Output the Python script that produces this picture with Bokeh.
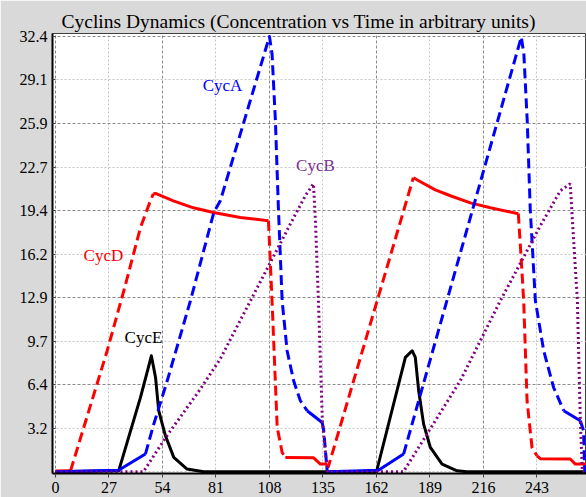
import numpy as np
from bokeh.plotting import figure
from bokeh.models import Range1d, FixedTicker, Label, Grid, CustomJSTickFormatter
from bokeh.embed import file_html
from bokeh.resources import INLINE

# ---------------- data ----------------
title_text = "Cyclins Dynamics (Concentration vs Time in arbitrary units)"

x_ticks = [0, 27, 54, 81, 108, 135, 162, 189, 216, 243, 270]
y_ticks = [3.244, 6.488, 9.732, 12.976, 16.22, 19.464, 22.708, 25.952, 29.196, 32.44]
y_tick_labels = ["3.2", "6.4", "9.7", "12.9", "16.2", "19.4", "22.7", "25.9", "29.1", "32.4"]

cycd_t = [0, 7.6, 26.1, 34.5, 42.9, 47.9, 49.4, 50.5, 59.5, 69.6, 79.7, 93.3, 107.5,
          109.3, 111.9, 114.4, 116.0, 130.3, 133.7, 137.2, 137.7, 180.6, 184.2, 191.7,
          199.3, 209.4, 219.5, 233.6, 235.1, 236.3, 238.0, 240.5, 243.0, 244.7, 259.8,
          262.4, 267.9]
cycd_v = [0.05, 0.07, 9.02, 13.49, 18.2, 20.19, 20.72, 20.74, 20.19, 19.67, 19.32, 18.95,
          18.70, 12.74, 3.30, 1.44, 1.07, 1.04, 0.57, 0.57, 0.37, 21.91, 21.61, 21.01,
          20.57, 20.04, 19.67, 19.23, 15.72, 12.74, 5.29, 1.81, 1.19, 0.97, 0.95, 0.57, 0.57]

cyca_t = [0, 31.8, 45.4, 49.6, 56.4, 68.1, 79.9, 83.2, 108.0, 109.3, 111.0, 112.5, 114.4,
          116.9, 120.2, 123.6, 127.0, 134.6, 135.4, 137.1, 137.7, 163.0, 175.7, 235.1,
          236.4, 238.1, 239.6, 242.2, 246.4, 251.4, 256.5, 264.9, 266.5, 267.1, 267.9]
cyca_v = [0.0, 0.11, 1.32, 3.55, 6.78, 12.74, 19.32, 20.19, 32.44, 31.15, 26.15, 19.67,
          12.74, 9.02, 6.78, 5.29, 4.55, 3.67, 3.06, 0.07, 0.0, 0.11, 1.32, 32.4, 31.1,
          26.1, 19.6, 12.74, 9.02, 6.28, 4.55, 3.80, 3.06, 0.07, 0.0]

cycb_t = [0, 44.4, 55.5, 73.2, 83.2, 98.4, 118.6, 126.1, 130.2, 131.2, 132.7, 134.7, 137.2,
          175.6, 187.5, 204.3, 216.1, 224.5, 244.7, 254.8, 259.8, 260.9, 263.4, 264.9,
          265.9, 267.9]
cycb_v = [0, 0, 2.53, 6.18, 8.42, 12.74, 18.48, 20.57, 21.46, 18.70, 12.74, 3.80, 0,
          0, 2.81, 6.78, 10.26, 12.74, 18.33, 20.94, 21.46, 18.70, 12.74, 3.80, 0, 0]

cyce_t = [0, 31.9, 42.9, 46.4, 48.4, 50.5, 52.1, 55.5, 59.7, 66.4, 74.8, 162.0, 176.6,
          180.0, 181.6, 183.3, 185.8, 189.2, 195.1, 202.7, 207.7, 267.9]
cyce_v = [0, 0.07, 5.54, 7.5, 8.64, 7.03, 4.55, 2.68, 1.07, 0.20, 0.0, 0.0, 8.52, 9.02,
          8.52, 6.04, 3.55, 1.81, 0.57, 0.07, 0.0, 0.0]

series_names = ["CycD", "CycA", "CycB", "CycE"]

# ---------------- layout / style ----------------
W, H = 586, 497
X0, X1 = -1.5, 268.0
Y0, Y1 = -0.13, 32.66
BL, BR, BB, BT = 52, 0, 24, 33
SX = (W - BL - BR) / (X1 - X0)
SY = (H - BT - BB) / (Y1 - Y0)

SERIF = "'Liberation Serif', 'Times New Roman', serif"
BG = "#d9d9d9"

p = figure(width=W, height=H, output_backend="svg", toolbar_location=None,
           x_range=Range1d(X0, X1), y_range=Range1d(Y0, Y1),
           min_border_left=BL, min_border_right=BR, min_border_bottom=BB, min_border_top=BT,
           title=title_text)
p.border_fill_color = BG
p.background_fill_color = "white"
p.outline_line_color = "#404040"
p.outline_line_width = 1

p.title.text_font = SERIF
p.title.text_font_size = "19.5px"
p.title.text_font_style = "normal"
p.title.text_color = "black"
p.title.align = "left"
p.title.offset = 9
p.title.standoff = 4

# axes
p.xaxis.ticker = FixedTicker(ticks=x_ticks)
p.yaxis.ticker = FixedTicker(ticks=y_ticks)
p.yaxis.formatter = CustomJSTickFormatter(args=dict(vals=y_ticks, labs=y_tick_labels), code="""
    for (let i = 0; i < vals.length; i++) {
        if (Math.abs(vals[i] - tick) < 1e-6) return labs[i];
    }
    return tick.toFixed(1);
""")
for ax in (p.xaxis[0], p.yaxis[0]):
    ax.major_label_text_font = SERIF
    ax.major_label_text_font_size = "16px"
    ax.major_label_text_font_style = "normal"
    ax.major_label_text_color = "black"
    ax.axis_line_color = "black"
    ax.axis_line_width = 2
    ax.minor_tick_line_color = None
    ax.major_tick_line_color = "#404040"
p.xaxis.major_tick_in = 0
p.xaxis.major_tick_out = 4
p.xaxis.major_label_standoff = 4
p.yaxis.major_tick_in = 3
p.yaxis.major_tick_out = 0
p.yaxis.major_label_standoff = 5

# grids: darker dashed on every other tick, lighter dotted in between
p.xgrid.visible = False
p.ygrid.visible = False
x_dark = x_ticks[0::2]
x_light = x_ticks[1::2]
y_dark = y_ticks[1::2]
y_light = [0] + y_ticks[0::2]
for dim, dark, light in ((0, x_dark, x_light), (1, y_dark, y_light)):
    p.add_layout(Grid(dimension=dim, ticker=FixedTicker(ticks=dark),
                      grid_line_color="#8a8a8a", grid_line_dash="3 2", grid_line_width=1))
    p.add_layout(Grid(dimension=dim, ticker=FixedTicker(ticks=light),
                      grid_line_color="#c4c4c4", grid_line_dash="2 2", grid_line_width=1))


def runs(t, v, limit=1.2):
    t = np.asarray(t, float)
    v = np.asarray(v, float)
    dt = np.abs(np.diff(t)) * SX
    dv = np.abs(np.diff(v)) * SY
    steep = dv > limit * dt
    out = []
    start = 0
    n = len(steep)
    for i in range(1, n + 1):
        if i == n or steep[i] != steep[start]:
            out.append((bool(steep[start]), t[start:i + 1], v[start:i + 1]))
            start = i
    return out


LW = 3
# CycE (black, solid)
p.line(cyce_t, cyce_v, line_color="black", line_width=LW, line_join="round")
# CycD (red) and CycA (blue): dashed where steep, solid where flat
for tt, vv, col in ((cycd_t, cycd_v, "#ff0000"), (cyca_t, cyca_v, "#0000ff")):
    for steep, rt, rv in runs(tt, vv):
        p.line(rt, rv, line_color=col, line_width=LW,
               line_dash="10 5" if steep else "solid", line_join="round")
# CycB (purple, dotted)
p.line(cycb_t, cycb_v, line_color="#800080", line_width=LW, line_dash="2 3")

# series labels
label_specs = [("CycD", 24.2, 16.1, "#ff0000"),
               ("CycA", 84.3, 28.76, "#0000ff"),
               ("CycB", 131.2, 22.8, "#80308f"),
               ("CycE", 44.4, 10.0, "black")]
for txt, lx, ly, col in label_specs:
    p.add_layout(Label(x=lx, y=ly, text=txt, text_color=col, text_font=SERIF,
                       text_font_size="17px", text_align="center", text_baseline="middle"))

open("out.html", "w").write(file_html(p, INLINE))
